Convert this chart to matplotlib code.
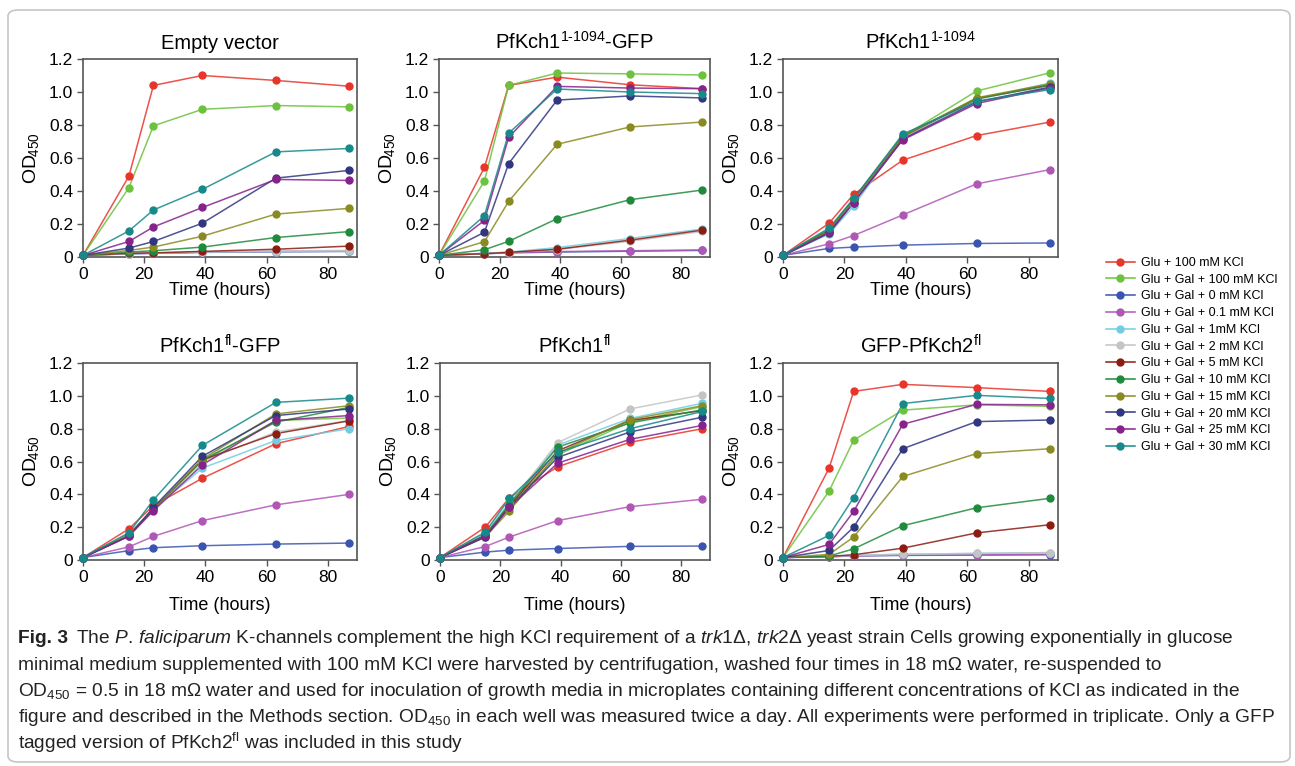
#!/usr/bin/env python3
"""
Growth curves (OD450) of trk1/trk2 yeast expressing P. falciparum K-channels.
"""

import matplotlib
matplotlib.use('Agg')
import matplotlib.pyplot as plt
from matplotlib import font_manager
from matplotlib.lines import Line2D
from matplotlib.patches import FancyBboxPatch

# ---- data -----------------------------------------------------------------
hours = [0, 15, 23, 39, 63, 87]

conditions = ['Glu + 100 mM KCl', 'Glu + Gal + 100 mM KCl', 'Glu + Gal + 0 mM KCl',
              'Glu + Gal + 0.1 mM KCl', 'Glu + Gal + 1mM KCl', 'Glu + Gal + 2 mM KCl',
              'Glu + Gal + 5 mM KCl', 'Glu + Gal + 10 mM KCl', 'Glu + Gal + 15 mM KCl',
              'Glu + Gal + 20 mM KCl', 'Glu + Gal + 25 mM KCl', 'Glu + Gal + 30 mM KCl']

colors = ['#e8352b', '#6cc23c', '#3a55b0', '#b057b6', '#72cde2', '#c4c4c4',
          '#8c1c12', '#1f8a3c', '#8a8a22', '#30367f', '#86228c', '#16898a']

titles = ['Empty vector', r'PfKch1$^{1\text{-}1094}$-GFP', r'PfKch1$^{1\text{-}1094}$',
          r'PfKch1$^{fl}$-GFP', r'PfKch1$^{fl}$', r'GFP-PfKch2$^{fl}$']

empty_vector = [
    [0.01, 0.49, 1.04, 1.10, 1.07, 1.035],
    [0.01, 0.42, 0.795, 0.895, 0.918, 0.91],
    [0.01, 0.02, 0.022, 0.028, 0.032, 0.034],
    [0.01, 0.02, 0.023, 0.029, 0.033, 0.035],
    [0.01, 0.02, 0.024, 0.03, 0.033, 0.036],
    [0.01, 0.021, 0.025, 0.031, 0.036, 0.04],
    [0.01, 0.022, 0.025, 0.034, 0.047, 0.066],
    [0.01, 0.03, 0.038, 0.06, 0.118, 0.154],
    [0.01, 0.04, 0.06, 0.126, 0.26, 0.295],
    [0.01, 0.054, 0.094, 0.205, 0.478, 0.525],
    [0.01, 0.094, 0.182, 0.30, 0.47, 0.464],
    [0.01, 0.158, 0.285, 0.41, 0.637, 0.658],
]

kch1_trunc_gfp = [
    [0.01, 0.543, 1.04, 1.09, 1.044, 1.02],
    [0.01, 0.46, 1.04, 1.115, 1.11, 1.103],
    [0.01, 0.02, 0.025, 0.03, 0.035, 0.04],
    [0.01, 0.022, 0.027, 0.033, 0.038, 0.043],
    [0.01, 0.022, 0.03, 0.057, 0.112, 0.17],
    [0.01, 0.02, 0.027, 0.045, 0.095, 0.155],
    [0.01, 0.02, 0.028, 0.047, 0.102, 0.163],
    [0.01, 0.044, 0.095, 0.232, 0.347, 0.406],
    [0.01, 0.093, 0.337, 0.683, 0.788, 0.818],
    [0.01, 0.15, 0.566, 0.951, 0.976, 0.964],
    [0.01, 0.222, 0.725, 1.034, 1.024, 1.02],
    [0.01, 0.25, 0.75, 1.018, 1.0, 0.99],
]

kch1_trunc = [
    [0.01, 0.205, 0.38, 0.587, 0.736, 0.818],
    [0.01, 0.17, 0.35, 0.73, 1.006, 1.117],
    [0.01, 0.052, 0.06, 0.072, 0.082, 0.085],
    [0.01, 0.08, 0.13, 0.255, 0.443, 0.53],
    [0.01, 0.14, 0.31, 0.72, 0.955, 1.055],
    [0.01, 0.15, 0.33, 0.72, 0.955, 1.045],
    [0.01, 0.16, 0.35, 0.73, 0.96, 1.045],
    [0.01, 0.16, 0.35, 0.735, 0.96, 1.04],
    [0.01, 0.155, 0.35, 0.73, 0.965, 1.05],
    [0.01, 0.145, 0.33, 0.715, 0.94, 1.03],
    [0.01, 0.15, 0.33, 0.71, 0.93, 1.025],
    [0.01, 0.175, 0.355, 0.745, 0.944, 1.015],
]

kch1_fl_gfp = [
    [0.015, 0.19, 0.332, 0.498, 0.708, 0.814],
    [0.015, 0.16, 0.31, 0.60, 0.85, 0.865],
    [0.015, 0.057, 0.075, 0.087, 0.097, 0.103],
    [0.015, 0.08, 0.144, 0.24, 0.336, 0.40],
    [0.015, 0.16, 0.31, 0.56, 0.728, 0.80],
    [0.015, 0.15, 0.31, 0.60, 0.78, 0.85],
    [0.015, 0.15, 0.31, 0.61, 0.77, 0.848],
    [0.015, 0.15, 0.31, 0.61, 0.84, 0.93],
    [0.015, 0.15, 0.31, 0.615, 0.89, 0.94],
    [0.015, 0.145, 0.32, 0.632, 0.88, 0.92],
    [0.015, 0.145, 0.30, 0.58, 0.85, 0.88],
    [0.015, 0.166, 0.366, 0.698, 0.96, 0.986],
]

kch1_fl = [
    [0.015, 0.2, 0.38, 0.568, 0.717, 0.80],
    [0.015, 0.16, 0.33, 0.64, 0.84, 0.935],
    [0.015, 0.048, 0.06, 0.07, 0.083, 0.085],
    [0.015, 0.082, 0.14, 0.24, 0.325, 0.37],
    [0.015, 0.16, 0.35, 0.70, 0.862, 0.955],
    [0.015, 0.15, 0.34, 0.715, 0.92, 1.006],
    [0.015, 0.15, 0.33, 0.665, 0.85, 0.91],
    [0.015, 0.15, 0.34, 0.688, 0.835, 0.915],
    [0.015, 0.14, 0.30, 0.65, 0.855, 0.94],
    [0.015, 0.14, 0.32, 0.625, 0.78, 0.87],
    [0.015, 0.145, 0.32, 0.59, 0.735, 0.82],
    [0.015, 0.17, 0.375, 0.655, 0.80, 0.905],
]

gfp_kch2_fl = [
    [0.015, 0.56, 1.027, 1.07, 1.05, 1.027],
    [0.015, 0.42, 0.73, 0.913, 0.945, 0.936],
    [0.015, 0.02, 0.025, 0.028, 0.03, 0.032],
    [0.015, 0.02, 0.025, 0.03, 0.033, 0.035],
    [0.015, 0.022, 0.028, 0.035, 0.04, 0.045],
    [0.015, 0.022, 0.028, 0.035, 0.04, 0.045],
    [0.015, 0.022, 0.032, 0.072, 0.165, 0.215],
    [0.015, 0.024, 0.068, 0.209, 0.318, 0.376],
    [0.015, 0.034, 0.14, 0.509, 0.648, 0.678],
    [0.015, 0.058, 0.2, 0.678, 0.843, 0.853],
    [0.015, 0.095, 0.296, 0.827, 0.948, 0.945],
    [0.015, 0.15, 0.38, 0.953, 1.003, 0.984],
]

panels = [empty_vector, kch1_trunc_gfp, kch1_trunc, kch1_fl_gfp, kch1_fl, gfp_kch2_fl]

caption_label = 'Fig. 3'
caption = [
    r"The $\mathit{P.\,faliciparum}$ K-channels complement the high KCl requirement of a "
    r"$\mathit{trk1Δ,\,trk2Δ}$ yeast strain Cells growing exponentially in glucose",
    "minimal medium supplemented with 100 mM KCl were harvested by centrifugation, washed four times in 18 mΩ water, re-suspended to",
    r"OD$_{450}$ = 0.5 in 18 mΩ water and used for inoculation of growth media in microplates containing different "
    r"concentrations of KCl as indicated in the",
    r"figure and described in the Methods section. OD$_{450}$ in each well was measured twice a day. All experiments "
    r"were performed in triplicate. Only a GFP",
    r"tagged version of PfKch2$^{fl}$ was included in this study",
]

# ---- fonts ----------------------------------------------------------------
installed = {f.name for f in font_manager.fontManager.ttflist}
cap_font = 'Liberation Sans Narrow' if 'Liberation Sans Narrow' in installed else 'Liberation Sans'

plt.rcParams['font.family'] = ['Liberation Sans', 'DejaVu Sans']
plt.rcParams['mathtext.fontset'] = 'custom'
plt.rcParams['mathtext.default'] = 'regular'
plt.rcParams['mathtext.rm'] = cap_font
plt.rcParams['mathtext.it'] = cap_font + ':italic'
plt.rcParams['mathtext.bf'] = cap_font + ':bold'

W, H = 1295, 766
fig = plt.figure(figsize=(W / 100, H / 100), dpi=100)

# frame around the whole figure
fig.patches.append(FancyBboxPatch((8 / W, 4 / H), 1282 / W, 752 / H,
                                  boxstyle='round,pad=0,rounding_size=0.008',
                                  transform=fig.transFigure, fill=False,
                                  edgecolor='#c6c6c6', lw=1.2))

# axes boxes in pixels: left, top, right, bottom
boxes = [(83, 59, 357, 257), (439, 59, 710, 257), (783, 59, 1058, 257),
         (83, 363, 357, 560), (440, 363, 710, 560), (783, 363, 1058, 560)]

for i, (data, title, (l, t, r, b)) in enumerate(zip(panels, titles, boxes)):
    ax = fig.add_axes([l / W, 1 - b / H, (r - l) / W, (b - t) / H])
    for vals, c in zip(data, colors):
        ax.plot(hours, vals, color=c, lw=1.1, alpha=0.85, clip_on=False)
        ax.plot(hours, vals, 'o', color=c, ms=5, clip_on=False, zorder=3)
    ax.set_xlim(0, 89.5)
    ax.set_ylim(0, 1.2)
    ax.set_xticks([0, 20, 40, 60, 80])
    ax.set_yticks([0, 0.2, 0.4, 0.6, 0.8, 1.0, 1.2])
    ax.set_yticklabels(['0', '0.2', '0.4', '0.6', '0.8', '1.0', '1.2'])
    ax.tick_params(direction='out', length=4, width=1, color='#555555',
                   labelsize=12.5, pad=3)
    for sp in ax.spines.values():
        sp.set_color('#555555')
        sp.set_linewidth(1.2)
    ax.set_title(title, fontsize=14.5, pad=7)
    ax.set_xlabel('Time (hours)', fontsize=13, labelpad=0 if i < 3 else 9)
    ax.set_ylabel(r'OD$_{\!450}$', fontsize=14, labelpad=6)

handles = [Line2D([], [], color=c, lw=1.1, marker='o', ms=5) for c in colors]
fig.legend(handles, conditions, loc='upper left', bbox_to_anchor=(1106 / W, 1 - 257 / H),
           frameon=False, fontsize=9, handlelength=2.3, handletextpad=0.5,
           labelspacing=0.38, borderpad=0, borderaxespad=0)

# caption, sized so the first line spans the same width as in the figure
renderer = fig.canvas.get_renderer()
cap_family = [cap_font, 'DejaVu Sans']
probe = fig.text(18 / W, 0.1, caption_label, family=cap_family, fontsize=12,
                 fontweight='bold')
label_w = probe.get_window_extent(renderer).width
probe.remove()
probe = fig.text(18 / W, 0.1, caption[0], family=cap_family, fontsize=12)
width = probe.get_window_extent(renderer).width + label_w + 8
probe.remove()
cap_size = min(12 * 1215 / width, 14)
label_w *= cap_size / 12

for k, line in enumerate(caption):
    y = 643 + k * 26.5
    x = 18
    if k == 0:
        fig.text(x / W, 1 - y / H, caption_label, family=cap_family, fontsize=cap_size,
                 fontweight='bold', va='baseline', ha='left', color='#222222')
        x += label_w + 8
    fig.text(x / W, 1 - y / H, line, family=cap_family,
             fontsize=cap_size, va='baseline', ha='left', color='#222222')

fig.savefig('out.png', dpi=100)
